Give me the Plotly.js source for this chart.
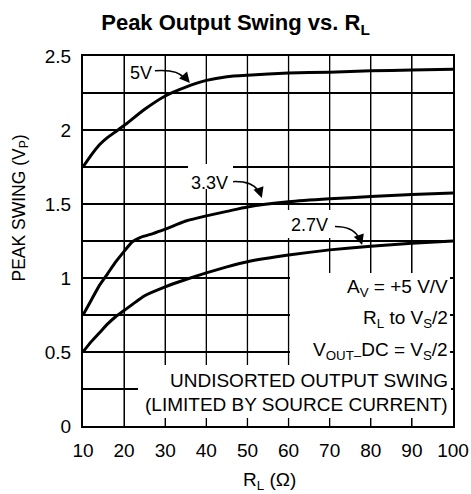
<!DOCTYPE html>
<html><head><meta charset="utf-8">
<script src="https://cdn.plot.ly/plotly-3.0.1.min.js"></script>
<style>html,body{margin:0;padding:0;background:#fff}#chart{width:471px;height:494px}</style>
</head><body><div id="chart"></div>
<script>
// ---- data ----
const rl5V    = [10, 12, 14, 16, 18, 20, 25, 30, 35, 40, 45, 50, 60, 70, 80, 90, 100];
const swing5V = [1.75, 1.83, 1.90, 1.95, 1.99, 2.03, 2.14, 2.23, 2.29, 2.335, 2.36, 2.37, 2.385, 2.39, 2.40, 2.405, 2.41];

const rl3V3    = [10, 12, 14, 16, 18, 20, 22, 24, 27, 30, 35, 40, 45, 50, 60, 70, 80, 90, 100];
const swing3V3 = [0.75, 0.85, 0.95, 1.03, 1.11, 1.18, 1.245, 1.275, 1.30, 1.33, 1.385, 1.42, 1.45, 1.48, 1.515, 1.535, 1.55, 1.565, 1.575];

const rl2V7    = [10, 12, 14, 16, 18, 20, 25, 30, 35, 40, 45, 50, 60, 70, 80, 90, 100];
const swing2V7 = [0.50, 0.57, 0.63, 0.69, 0.74, 0.78, 0.88, 0.94, 0.99, 1.035, 1.075, 1.11, 1.155, 1.19, 1.215, 1.235, 1.25];

const curveLabels = ['5V', '3.3V', '2.7V'];
const xTickVals = [10, 20, 30, 40, 50, 60, 70, 80, 90, 100];
const xTickText = ['10', '20', '30', '40', '50', '60', '70', '80', '90', '100'];
const yTickVals = [0, 0.25, 0.5, 0.75, 1, 1.25, 1.5, 1.75, 2, 2.25, 2.5];
const yTickText = ['0', '', '0.5', '', '1', '', '1.5', '', '2', '', '2.5'];
const conditionLines = ['A<sub>V</sub> = +5 V/V', 'R<sub>L</sub> to V<sub>S</sub>/2', 'V<sub>OUT–</sub>DC = V<sub>S</sub>/2',
                        'UNDISORTED OUTPUT SWING', '(LIMITED BY SOURCE CURRENT)'];

// ---- drawing ----
const FONT = 'Liberation Sans, Arial, Helvetica, sans-serif';
const Y_MIN = yTickVals[0], Y_MAX = yTickVals[yTickVals.length - 1];

function curve(x, y, name) {
  return {x: x, y: y, name: name, type: 'scatter', mode: 'lines',
          line: {color: '#000', width: 3, shape: 'spline', smoothing: 0.5},
          hoverinfo: 'skip', showlegend: false};
}
// vertical grid lines (one segment per inner x tick), drawn as a trace
const gridX = [], gridY = [];
xTickVals.slice(1, -1).forEach(v => { gridX.push(v, v, null); gridY.push(Y_MIN, Y_MAX, null); });
const gridTrace = {x: gridX, y: gridY, type: 'scatter', mode: 'lines', connectgaps: false,
                   line: {color: '#000', width: 1.3}, hoverinfo: 'skip', showlegend: false};

const traces = [gridTrace, curve(rl5V, swing5V, curveLabels[0]), curve(rl3V3, swing3V3, curveLabels[1]), curve(rl2V7, swing2V7, curveLabels[2])];

const axisCommon = {
  tickmode: 'array', showgrid: true, gridcolor: '#000', gridwidth: 1.2,
  showline: true, linecolor: '#000', linewidth: 2, mirror: true, zeroline: false,
  ticks: 'outside', ticklen: 6, tickcolor: 'rgba(0,0,0,0)',
  tickfont: {family: FONT, size: 19, color: '#000'}, fixedrange: true
};

// white masks that interrupt the grid behind the texts (sizes in px)
function mask(x, y, w, h) {
  return {xref: 'x', yref: 'y', x: x, y: y, xanchor: 'left', yanchor: 'top',
          width: w, height: h, text: ' ', showarrow: false,
          bgcolor: '#fff', borderpad: 0, borderwidth: 0};
}
function arrowPath(x0, y0, cx, cy, x1, y1) {
  return {type: 'path', xref: 'x', yref: 'y', path: `M ${x0},${y0} Q ${cx},${cy} ${x1},${y1}`,
          line: {color: '#000', width: 1.5}, layer: 'above'};
}
function arrowHead(x, y, ax, ay) {
  return {xref: 'x', yref: 'y', x: x, y: y, ax: ax, ay: ay, text: '', showarrow: true,
          arrowhead: 2, arrowsize: 1.4, arrowwidth: 1.5, arrowcolor: '#000'};
}
function label(text, x, y, anchor, size) {
  return {xref: 'paper', yref: 'paper', x: x, y: y, text: text, showarrow: false,
          xanchor: anchor || 'center', yanchor: 'middle', font: {family: FONT, size: size || 19, color: '#000'}};
}

const shapes = [
  arrowPath(27.5, 2.401, 33.1, 2.412, 34.6, 2.35),
  arrowPath(46.5, 1.651, 51.1, 1.655, 52.6, 1.59),
  arrowPath(70.8, 1.347, 75.4, 1.351, 76.9, 1.28)
];

const annotations = [
  mask(35.5, 1.77, 45, 25),
  mask(59.1, 1.46, 50, 28),
  mask(60.45, 1.034, 160, 92),
  mask(23.4, 0.41, 313, 53),
  label(curveLabels[0], 0.157, 0.954, 'center', 18),
  label(curveLabels[1], 0.343, 0.658, 'center', 18),
  label(curveLabels[2], 0.611, 0.543, 'center', 18),
  arrowHead(36.0, 2.318, -6, -7),
  arrowHead(53.5, 1.541, -3, -9),
  arrowHead(77.9, 1.223, -3, -9),
  label(conditionLines[0], 0.992, 0.372, 'right'),
  label(conditionLines[1], 0.992, 0.289, 'right'),
  label(conditionLines[2], 0.992, 0.203, 'right'),
  label(conditionLines[3], 0.992, 0.124, 'right'),
  label(conditionLines[4], 0.992, 0.058, 'right'),
  Object.assign(label('PEAK SWING (V<sub>P</sub>)', -0.170, 0.588, 'center', 17.5), {textangle: -90}),
  label('R<sub>L</sub> (Ω)', 0.505, -0.15)
];

const layout = {
  width: 471, height: 494,
  margin: {l: 83, r: 18, t: 56, b: 68},
  paper_bgcolor: '#fff', plot_bgcolor: '#fff',
  title: {text: '<b>Peak Output Swing vs. R<sub>L</sub></b>', font: {family: FONT, size: 22, color: '#000'},
          x: 0.5, xref: 'container', xanchor: 'center', y: 0.955, yref: 'container', yanchor: 'middle'},
  xaxis: Object.assign({}, axisCommon, {range: [10, 100], tickvals: xTickVals, ticktext: xTickText}),
  yaxis: Object.assign({}, axisCommon, {range: [Y_MIN, Y_MAX], tickvals: yTickVals, ticktext: yTickText}),
  shapes: shapes,
  annotations: annotations,
  showlegend: false
};

Plotly.newPlot('chart', traces, layout, {displayModeBar: false, staticPlot: true});
</script>
</body></html>
